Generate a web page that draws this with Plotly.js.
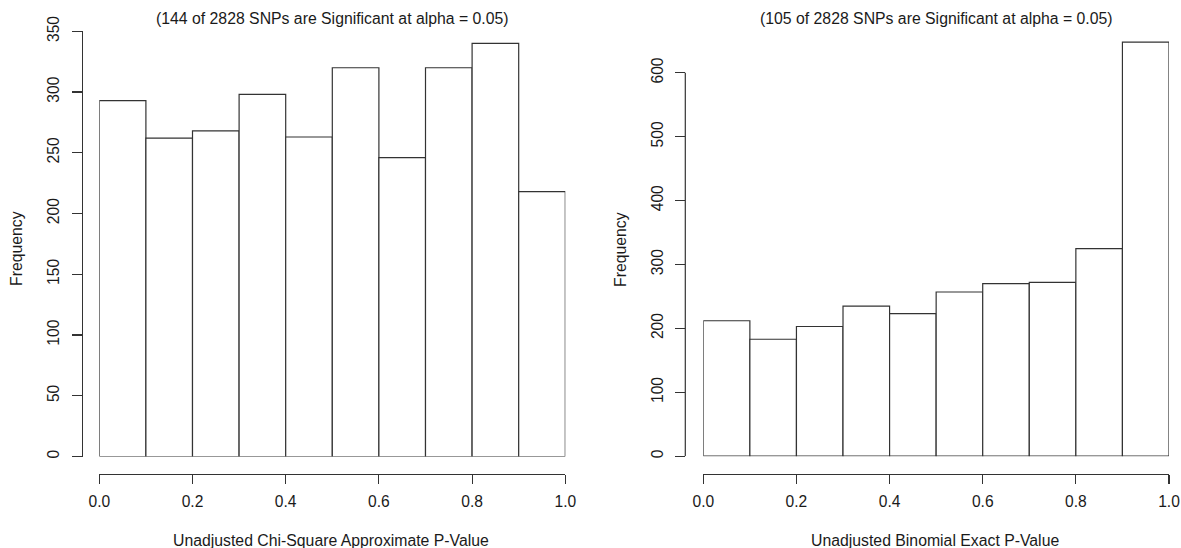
<!DOCTYPE html>
<html>
<head>
<meta charset="utf-8">
<script src="https://cdn.plot.ly/plotly-3.0.1.min.js"></script>
<style>html,body{margin:0;padding:0;background:#fff;}#chart{width:1181px;height:548px;}</style>
</head>
<body>
<div id="chart"></div>
<script>
// Data
const binEdges = [0.0, 0.1, 0.2, 0.3, 0.4, 0.5, 0.6, 0.7, 0.8, 0.9, 1.0];
const chiSquareCounts = [293, 262, 268, 298, 263, 320, 246, 320, 340, 218];
const binomialCounts = [212, 183, 203, 235, 223, 257, 270, 272, 325, 648];
const leftTitle = "(144 of 2828 SNPs are Significant at alpha = 0.05)";
const rightTitle = "(105 of 2828 SNPs are Significant at alpha = 0.05)";
const leftXTitle = "Unadjusted Chi-Square Approximate P-Value";
const rightXTitle = "Unadjusted Binomial Exact P-Value";
const yTitle = "Frequency";

const W = 1181, H = 548;
const px = v => v / W;
const py = v => 1 - v / H;

const mids = binEdges.slice(0, -1).map((e, i) => (e + binEdges[i + 1]) / 2);
const widths = binEdges.slice(0, -1).map((e, i) => binEdges[i + 1] - e);

const FONT = 'Liberation Sans, Arial, sans-serif';
const TXT = '#1a1a1a';
const LINE = '#333';
const FS = 15.8;
const TFS = 15.6;

function barTrace(counts, xa, ya) {
  return {
    type: 'bar', x: mids, y: counts, width: widths,
    xaxis: xa, yaxis: ya,
    marker: {color: '#ffffff', line: {color: LINE, width: 1.2}},
    hoverinfo: 'skip', showlegend: false
  };
}

const xCommon = {
  range: [0, 1], anchor: 'free', position: py(473.5),
  showline: true, linecolor: LINE, linewidth: 1.2,
  ticks: 'outside', ticklen: 9, tickcolor: LINE, tickwidth: 1.2,
  tick0: 0, dtick: 0.2, tickformat: '.1f',
  showgrid: false, zeroline: false, fixedrange: true,
  tickfont: {family: FONT, size: TFS, color: TXT},
  ticklabelstandoff: 5
};
const yCommon = {
  anchor: 'free',
  ticks: 'outside', ticklen: 10, tickcolor: LINE, tickwidth: 1.2,
  showgrid: false, zeroline: false, fixedrange: true,
  tickangle: -90,
  tickfont: {family: FONT, size: TFS, color: TXT},
  ticklabelstandoff: 6
};

// Right panel scale: 0 at y=456.2, 600 at y=72.8 ; top of plot area at y=31.3
const rightMax = 600 * (456.2 - 31.3) / (456.2 - 72.8);

const layout = {
  width: W, height: H,
  margin: {l: 0, r: 0, t: 0, b: 0},
  paper_bgcolor: '#fff', plot_bgcolor: 'rgba(0,0,0,0)',
  bargap: 0,
  showlegend: false,
  font: {family: FONT, color: TXT, size: FS},
  xaxis: Object.assign({}, xCommon, {domain: [px(99.3), px(565.3)]}),
  yaxis: Object.assign({}, yCommon, {
    domain: [py(456.5), py(31.3)], range: [0, 350], dtick: 50,
    position: px(81.7), showline: true, linecolor: LINE, linewidth: 1.2
  }),
  xaxis2: Object.assign({}, xCommon, {domain: [px(703.3), px(1169)]}),
  yaxis2: Object.assign({}, yCommon, {
    domain: [py(456.2), py(31.3)], range: [0, rightMax], dtick: 100,
    tickvals: [0, 100, 200, 300, 400, 500, 600],
    position: px(685.3), showline: false
  }),
  shapes: [{
    type: 'line', xref: 'paper', yref: 'y2',
    x0: px(685.3), x1: px(685.3), y0: 0, y1: 600,
    line: {color: LINE, width: 1.2}
  }],
  annotations: [
    {text: leftTitle, xref: 'paper', yref: 'paper', x: px(332), y: py(19), showarrow: false, xanchor: 'center', yanchor: 'middle', font: {family: FONT, size: FS, color: TXT}},
    {text: rightTitle, xref: 'paper', yref: 'paper', x: px(936), y: py(19), showarrow: false, xanchor: 'center', yanchor: 'middle', font: {family: FONT, size: FS, color: TXT}},
    {text: leftXTitle, xref: 'paper', yref: 'paper', x: px(331), y: py(540), showarrow: false, xanchor: 'center', yanchor: 'middle', font: {family: FONT, size: FS, color: TXT}},
    {text: rightXTitle, xref: 'paper', yref: 'paper', x: px(935), y: py(540), showarrow: false, xanchor: 'center', yanchor: 'middle', font: {family: FONT, size: FS, color: TXT}},
    {text: yTitle, xref: 'paper', yref: 'paper', x: px(17), y: py(249), textangle: -90, showarrow: false, xanchor: 'center', yanchor: 'middle', font: {family: FONT, size: FS, color: TXT}},
    {text: yTitle, xref: 'paper', yref: 'paper', x: px(621), y: py(249), textangle: -90, showarrow: false, xanchor: 'center', yanchor: 'middle', font: {family: FONT, size: FS, color: TXT}}
  ]
};

Plotly.newPlot('chart', [
  barTrace(chiSquareCounts, 'x', 'y'),
  barTrace(binomialCounts, 'x2', 'y2')
], layout, {staticPlot: true, displayModeBar: false});
</script>
</body>
</html>
